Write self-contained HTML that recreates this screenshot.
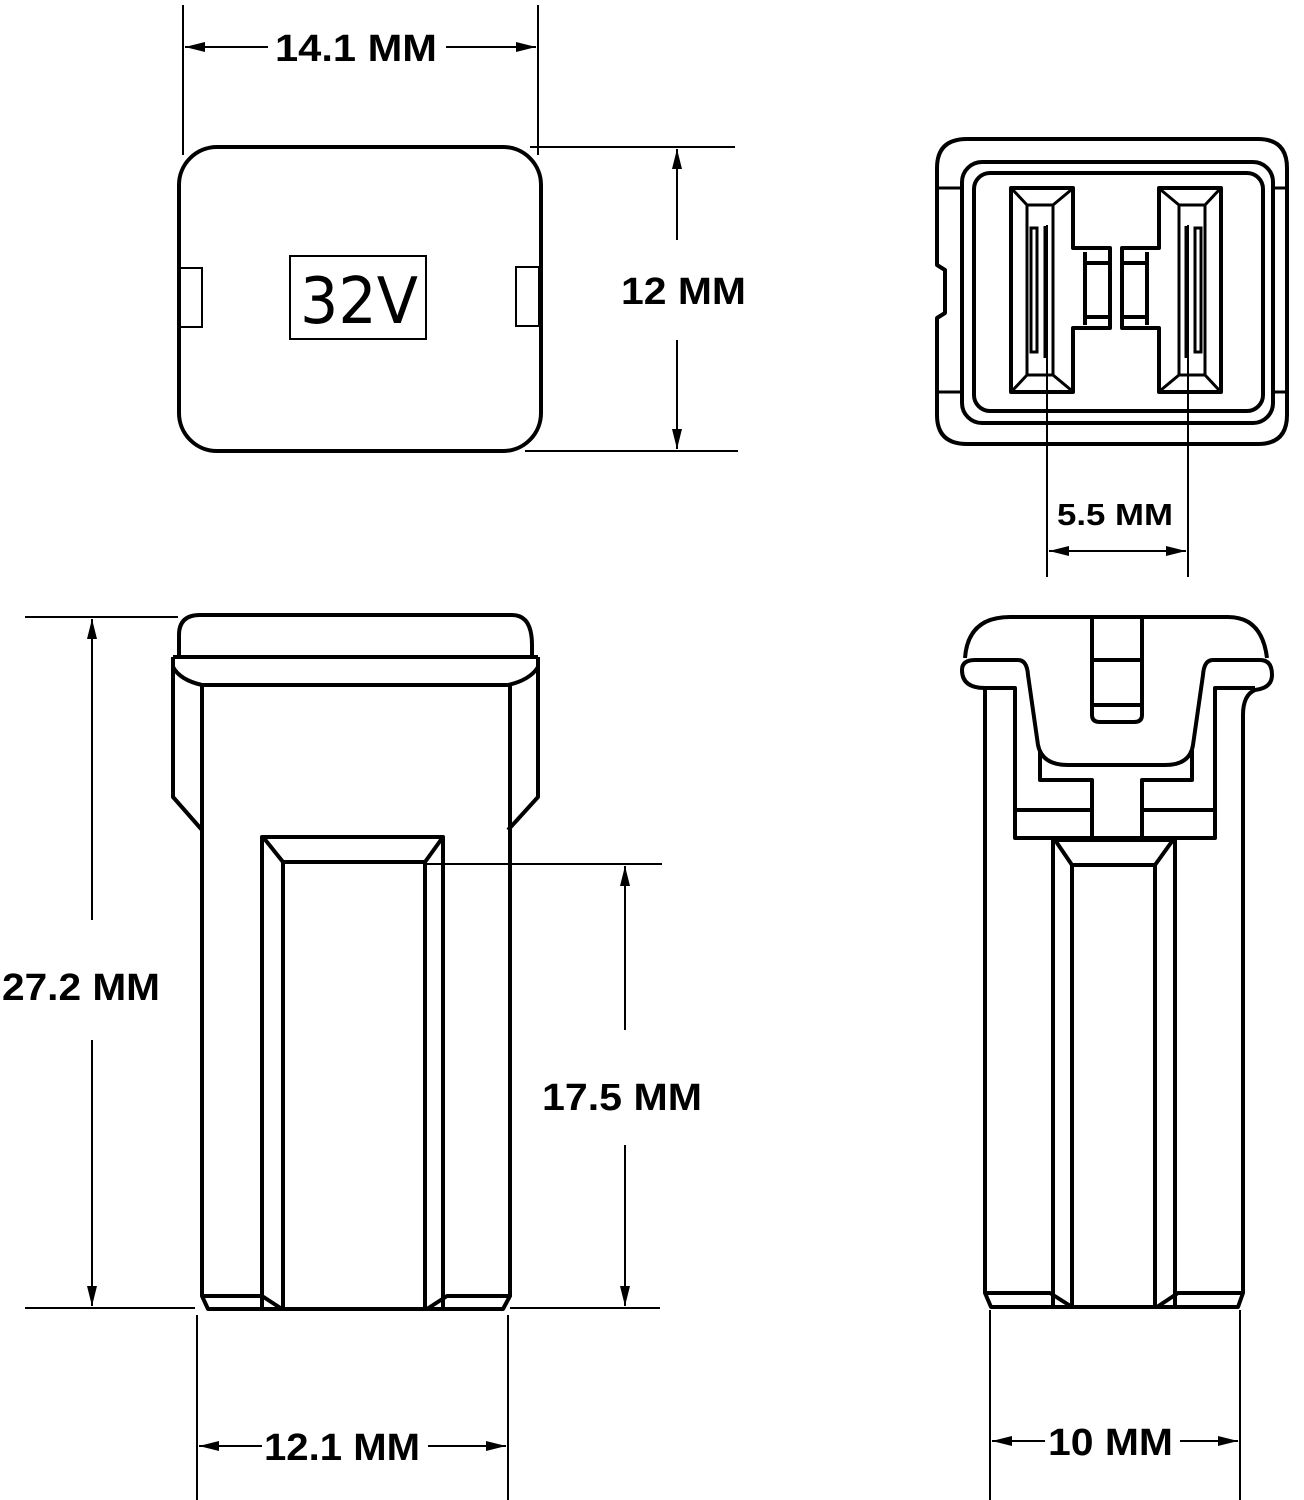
<!DOCTYPE html>
<html><head><meta charset="utf-8"><style>html,body{margin:0;padding:0;background:#fff}svg{display:block}</style></head>
<body>
<svg width="1304" height="1500" viewBox="0 0 1304 1500" xmlns="http://www.w3.org/2000/svg">
<defs>
<marker id="a" viewBox="0 0 20 10" refX="20" refY="5" markerWidth="20" markerHeight="10" markerUnits="userSpaceOnUse" orient="auto-start-reverse"><path d="M0,0 L20,5 L0,10 Z" fill="#000"/></marker>
</defs>
<g fill="none" stroke="#000" stroke-width="2">
<line x1="183" y1="5" x2="183" y2="155"/><line x1="538" y1="5" x2="538" y2="155"/>
<line x1="185" y1="47" x2="268" y2="47" marker-start="url(#a)"/>
<line x1="446" y1="47" x2="536" y2="47" marker-end="url(#a)"/>
<line x1="530" y1="147" x2="735" y2="147"/><line x1="525" y1="451" x2="738" y2="451"/>
<line x1="677" y1="149" x2="677" y2="240" marker-start="url(#a)"/>
<line x1="677" y1="340" x2="677" y2="449" marker-end="url(#a)"/>
<line x1="1047" y1="225" x2="1047" y2="577"/><line x1="1188" y1="225" x2="1188" y2="577"/>
<line x1="1049" y1="551" x2="1186" y2="551" marker-start="url(#a)" marker-end="url(#a)"/>
<line x1="25" y1="617" x2="178" y2="617"/><line x1="25" y1="1308" x2="195" y2="1308"/>
<line x1="92" y1="619" x2="92" y2="920" marker-start="url(#a)"/>
<line x1="92" y1="1040" x2="92" y2="1306" marker-end="url(#a)"/>
<line x1="425" y1="864" x2="662" y2="864"/><line x1="510" y1="1308" x2="660" y2="1308"/>
<line x1="625" y1="866" x2="625" y2="1030" marker-start="url(#a)"/>
<line x1="625" y1="1145" x2="625" y2="1306" marker-end="url(#a)"/>
<line x1="197" y1="1315" x2="197" y2="1500"/><line x1="508" y1="1315" x2="508" y2="1500"/>
<line x1="199" y1="1446" x2="262" y2="1446" marker-start="url(#a)"/>
<line x1="428" y1="1446" x2="506" y2="1446" marker-end="url(#a)"/>
<line x1="990" y1="1310" x2="990" y2="1500"/><line x1="1240" y1="1310" x2="1240" y2="1500"/>
<line x1="992" y1="1441" x2="1045" y2="1441" marker-start="url(#a)"/>
<line x1="1180" y1="1441" x2="1238" y2="1441" marker-end="url(#a)"/>
</g>
<g font-family="Liberation Sans, sans-serif" font-weight="bold" font-size="38" fill="#000" lengthAdjust="spacingAndGlyphs">
<text x="275" y="61" textLength="162" lengthAdjust="spacingAndGlyphs">14.1 MM</text>
<text x="621" y="304" textLength="125" lengthAdjust="spacingAndGlyphs">12 MM</text>
<text x="1057" y="525" font-size="31" textLength="116" lengthAdjust="spacingAndGlyphs">5.5 MM</text>
<text x="2" y="1000" textLength="158" lengthAdjust="spacingAndGlyphs">27.2 MM</text>
<text x="542" y="1110" textLength="160" lengthAdjust="spacingAndGlyphs">17.5 MM</text>
<text x="264" y="1460" textLength="156" lengthAdjust="spacingAndGlyphs">12.1 MM</text>
<text x="1048" y="1455" textLength="125" lengthAdjust="spacingAndGlyphs">10 MM</text>
</g>
<g fill="none" stroke="#000" stroke-width="4">
<rect x="179" y="147" width="362" height="304" rx="38"/>
</g>
<g fill="none" stroke="#000" stroke-width="2">
<rect x="180" y="268" width="22" height="59"/><rect x="516" y="267" width="23" height="59"/>
<rect x="290" y="256" width="136" height="83"/>
</g>
<text x="300" y="323" font-family="DejaVu Sans, sans-serif" font-size="64" fill="#000" textLength="118" lengthAdjust="spacingAndGlyphs">32V</text>
<g fill="none" stroke="#000" stroke-width="4" stroke-linejoin="round">
<path d="M967,139 H1258 Q1287,139 1287,168 V415 Q1287,444 1258,444 H967 Q937,444 937,415 V318 L945,313 V270 L937,265 V168 Q937,139 967,139 Z"/>
<rect x="962" y="162" width="311" height="261" rx="20"/>
<rect x="974" y="173" width="289" height="238" rx="16"/>
<path d="M1011,188 H1073 V248 H1110 V328 H1073 V392 H1011 Z"/>
<path d="M1221,188 H1159 V248 H1122 V328 H1159 V392 H1221 Z"/>
<path d="M1085,252 V325 M1110,263 H1085 M1110,317 H1085"/>
<path d="M1147,252 V325 M1122,263 H1147 M1122,317 H1147"/>
</g>
<g fill="none" stroke="#000" stroke-width="3">
<line x1="937" y1="188" x2="962" y2="188"/><line x1="937" y1="392" x2="962" y2="392"/>
<line x1="1273" y1="188" x2="1287" y2="188"/><line x1="1273" y1="392" x2="1287" y2="392"/>
<path d="M1027,205 H1053 V375 H1027 Z M1013,190 L1027,205 M1071,190 L1053,205 M1013,390 L1027,375 M1071,390 L1053,375"/>
<path d="M1031,228 V352 H1037 V228 Z M1045,226 V358"/>
<path d="M1205,205 H1179 V375 H1205 Z M1219,190 L1205,205 M1161,190 L1179,205 M1219,390 L1205,375 M1161,390 L1179,375"/>
<path d="M1201,228 V352 H1195 V228 Z M1186,226 V358"/>
</g>
<g fill="none" stroke="#000" stroke-width="4" stroke-linejoin="round">
<path d="M179,657 V635 Q179,615 200,615 H512 Q532,615 532,645 V657"/>
<path d="M173,657 H538"/>
<path d="M173,657 V797 L202,830 M173,667 Q180,680 202,685 H508 Q530,680 538,667 M538,657 V797 L508,830"/>
<path d="M202,685 V1296 L208,1309 H503 L510,1296 V685"/>
<path d="M202,1296 H262 L282,1309 M510,1296 H447 L427,1309"/>
<path d="M262,1309 V837 H443 V1309"/>
<path d="M283,1309 V862 H425 V1309 M263,837 L283,862 M443,837 L425,862"/>
</g>
<g fill="none" stroke="#000" stroke-width="4" stroke-linejoin="round">
<path d="M965,658 Q968,617 1010,617 H1228 Q1262,617 1267,658"/>
<path d="M985,688 Q962,688 962,670 Q962,660 975,660 H1018 Q1027,660 1028,675 L1038,745 Q1042,765 1068,765 H1165 Q1190,765 1193,745 L1203,675 Q1204,660 1213,660 H1260 Q1272,660 1272,675 Q1272,688 1255,690 Q1243,695 1243,715"/>
<path d="M985,688 H1015 V838 H1215 V688 H1255"/>
<path d="M1040,750 V780 H1092 V838 M1192,750 V780 H1142 V838 M1015,810 H1092 M1142,810 H1215"/>
<path d="M1092,617 V715 Q1092,722 1100,722 H1134 Q1142,722 1142,715 V617 M1092,660 H1142 M1092,705 H1142"/>
<path d="M985,688 V1293 L991,1307 H1238 L1243,1293 V715"/>
<path d="M987,1293 H1050 L1072,1307 M1242,1293 H1178 L1157,1307"/>
<path d="M1053,1307 V840 H1175 V1307"/>
<path d="M1072,1307 V865 H1155 V1307 M1055,840 L1072,865 M1173,840 L1155,865"/>
</g>
</svg>
</body></html>
